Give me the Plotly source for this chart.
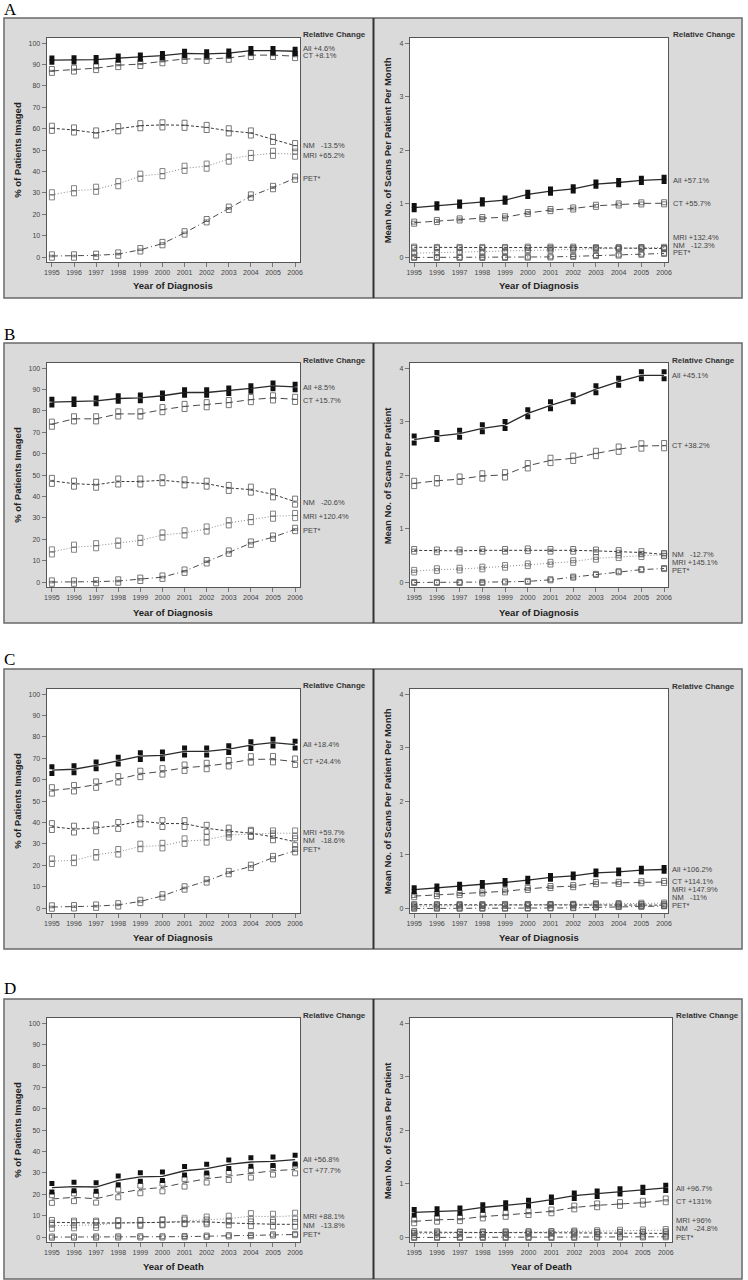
import plotly.graph_objects as go

# ---------------- data ----------------
years = [1995, 1996, 1997, 1998, 1999, 2000, 2001, 2002, 2003, 2004, 2005, 2006]
year_labels = [str(y) for y in years]
series_names = ["All", "CT", "NM", "MRI", "PET"]

pct_ticks = [0, 10, 20, 30, 40, 50, 60, 70, 80, 90, 100]
scan_ticks = [0, 1, 2, 3, 4]

# Panel A (year of diagnosis) - % imaged
a_pct_all = [92.1, 92.2, 92.3, 93.0, 93.5, 94.2, 95.2, 95.0, 95.3, 96.5, 96.5, 96.2]
a_pct_ct = [87.0, 87.6, 88.3, 89.7, 90.2, 91.5, 92.6, 92.6, 93.1, 94.4, 94.4, 93.9]
a_pct_nm = [60.2, 59.4, 58.0, 60.0, 61.4, 61.8, 61.6, 60.6, 59.0, 58.0, 55.0, 52.1]
a_pct_mri = [29.1, 31.0, 31.7, 34.3, 37.8, 39.0, 41.5, 42.5, 45.8, 47.5, 48.5, 48.1]
a_pct_pet = [0.5, 0.5, 0.8, 1.4, 3.4, 6.3, 11.3, 17.0, 22.8, 28.5, 32.5, 36.9]
a_pct_ci = [1.0, 0.9, 1.2, 1.2, 0.8]
a_pct_labels = ["All +4.6%", "CT +8.1%", "NM\u00a0\u00a0\u00a0-13.5%", "MRI +65.2%", "PET*"]

# Panel A - scans per patient per month
a_scan_all = [0.93, 0.965, 0.995, 1.04, 1.07, 1.18, 1.24, 1.28, 1.37, 1.40, 1.44, 1.46]
a_scan_ct = [0.65, 0.68, 0.71, 0.735, 0.75, 0.83, 0.885, 0.915, 0.965, 0.99, 1.01, 1.012]
a_scan_nm = [0.19, 0.185, 0.185, 0.185, 0.185, 0.19, 0.19, 0.19, 0.18, 0.18, 0.18, 0.167]
a_scan_mri = [0.08, 0.09, 0.095, 0.10, 0.11, 0.13, 0.14, 0.15, 0.165, 0.17, 0.18, 0.186]
a_scan_pet = [0.0, 0.0, 0.0, 0.0, 0.0, 0.005, 0.01, 0.02, 0.035, 0.045, 0.06, 0.075]
a_scan_ci = [0.04, 0.02, 0.012, 0.012, 0.01]
a_scan_labels = ["All +57.1%", "CT +55.7%", "MRI +132.4%", "NM\u00a0\u00a0\u00a0-12.3%", "PET*"]

# Panel B - % imaged
b_pct_all = [84.1, 84.3, 84.7, 85.8, 86.1, 87.1, 88.6, 88.6, 89.4, 90.5, 91.7, 91.2]
b_pct_ct = [73.8, 76.3, 76.3, 78.6, 78.6, 80.6, 82.1, 82.9, 83.9, 85.3, 86.1, 85.4]
b_pct_nm = [47.3, 46.0, 45.5, 47.0, 47.0, 47.6, 46.6, 46.0, 44.0, 43.2, 41.0, 37.6]
b_pct_mri = [14.1, 16.3, 17.0, 18.2, 19.5, 22.0, 23.0, 24.8, 27.7, 29.2, 30.8, 31.1]
b_pct_pet = [0.0, 0.0, 0.2, 0.5, 1.3, 2.3, 5.1, 9.5, 14.0, 18.2, 21.0, 24.6]
b_pct_ci = [1.3, 1.2, 1.4, 1.2, 0.8]
b_pct_labels = ["All +8.5%", "CT +15.7%", "NM\u00a0\u00a0\u00a0-20.6%", "MRI +120.4%", "PET*"]

# Panel B - scans per patient
b_scan_all = [2.67, 2.735, 2.78, 2.88, 2.94, 3.16, 3.31, 3.44, 3.61, 3.75, 3.87, 3.87]
b_scan_ct = [1.85, 1.90, 1.93, 1.99, 2.01, 2.18, 2.28, 2.32, 2.41, 2.49, 2.55, 2.556]
b_scan_nm = [0.60, 0.59, 0.59, 0.60, 0.60, 0.61, 0.60, 0.60, 0.59, 0.58, 0.56, 0.524]
b_scan_mri = [0.21, 0.24, 0.25, 0.27, 0.30, 0.33, 0.36, 0.39, 0.45, 0.48, 0.50, 0.515]
b_scan_pet = [0.0, 0.0, 0.0, 0.0, 0.01, 0.02, 0.05, 0.10, 0.15, 0.20, 0.24, 0.26]
b_scan_ci = [0.065, 0.05, 0.025, 0.025, 0.01]
b_scan_labels = ["All +45.1%", "CT +38.2%", "NM\u00a0\u00a0\u00a0-12.7%", "MRI +145.1%", "PET*"]

# Panel C - % imaged
c_pct_all = [64.5, 64.9, 66.7, 68.9, 71.0, 71.4, 73.2, 73.2, 74.3, 76.2, 77.3, 76.4]
c_pct_ct = [55.0, 56.0, 57.7, 60.2, 62.7, 63.9, 65.6, 66.4, 67.7, 69.5, 69.6, 68.4]
c_pct_nm = [38.1, 36.9, 37.5, 38.6, 40.7, 39.5, 39.5, 37.3, 36.0, 35.0, 33.3, 31.0]
c_pct_mri = [21.9, 22.3, 24.9, 26.3, 28.8, 29.2, 31.3, 31.9, 34.2, 34.7, 35.0, 35.0]
c_pct_pet = [0.5, 0.6, 0.9, 1.5, 3.1, 5.7, 9.4, 12.7, 16.6, 19.5, 23.6, 26.8]
c_pct_ci = [1.6, 1.5, 1.6, 1.3, 0.8]
c_pct_labels = ["All +18.4%", "CT +24.4%", "MRI +59.7%", "NM\u00a0\u00a0\u00a0-18.6%", "PET*"]

# Panel C - scans per patient per month
c_scan_all = [0.353, 0.385, 0.417, 0.448, 0.485, 0.53, 0.58, 0.61, 0.665, 0.685, 0.715, 0.728]
c_scan_ct = [0.231, 0.25, 0.27, 0.30, 0.32, 0.365, 0.40, 0.417, 0.475, 0.478, 0.49, 0.495]
c_scan_nm = [0.070, 0.070, 0.070, 0.070, 0.072, 0.072, 0.072, 0.070, 0.068, 0.066, 0.064, 0.062]
c_scan_mri = [0.040, 0.045, 0.05, 0.055, 0.06, 0.065, 0.07, 0.075, 0.085, 0.09, 0.095, 0.099]
c_scan_pet = [0.0, 0.0, 0.0, 0.0, 0.0, 0.002, 0.005, 0.01, 0.02, 0.03, 0.035, 0.045]
c_scan_ci = [0.035, 0.02, 0.012, 0.012, 0.005]
c_scan_labels = ["All +106.2%", "CT +114.1%", "MRI +147.9%", "NM\u00a0\u00a0\u00a0-11%", "PET*"]

# Panel D (year of death) - % imaged
d_pct_all = [23.1, 23.6, 23.4, 26.5, 28.1, 28.4, 31.0, 32.0, 34.0, 35.1, 35.4, 36.2]
d_pct_ct = [17.8, 18.6, 17.9, 20.4, 22.3, 23.2, 25.4, 27.3, 28.5, 29.6, 31.0, 31.6]
d_pct_nm = [6.9, 6.6, 6.6, 6.6, 6.9, 6.9, 7.1, 7.1, 6.6, 6.2, 6.0, 5.95]
d_pct_mri = [5.3, 5.5, 5.7, 6.5, 6.6, 6.9, 7.6, 8.2, 8.6, 9.8, 9.5, 10.0]
d_pct_pet = [0.0, 0.0, 0.0, 0.05, 0.1, 0.1, 0.2, 0.4, 0.6, 0.7, 1.0, 1.2]
d_pct_ci = [2.0, 1.8, 1.1, 1.4, 0.3]
d_pct_labels = ["All +56.8%", "CT +77.7%", "MRI +88.1%", "NM\u00a0\u00a0\u00a0-13.8%", "PET*"]

# Panel D - scans per patient
d_scan_all = [0.47, 0.487, 0.50, 0.56, 0.60, 0.643, 0.705, 0.78, 0.817, 0.86, 0.89, 0.925]
d_scan_ct = [0.30, 0.33, 0.34, 0.39, 0.42, 0.455, 0.487, 0.56, 0.60, 0.625, 0.65, 0.693]
d_scan_nm = [0.10, 0.095, 0.09, 0.09, 0.09, 0.09, 0.09, 0.09, 0.085, 0.08, 0.078, 0.075]
d_scan_mri = [0.07, 0.075, 0.08, 0.085, 0.09, 0.095, 0.10, 0.11, 0.115, 0.125, 0.13, 0.137]
d_scan_pet = [0.0, 0.0, 0.0, 0.0, 0.0, 0.0, 0.0, 0.002, 0.005, 0.008, 0.01, 0.012]
d_scan_ci = [0.05, 0.035, 0.02, 0.02, 0.01]
d_scan_labels = ["All +96.7%", "CT +131%", "MRI +96%", "NM\u00a0\u00a0\u00a0-24.8%", "PET*"]

row_letters = ["A", "B", "C", "D"]
pct_title = "% of Patients Imaged"
scan_titles = ["Mean No. of Scans Per Patient Per Month", "Mean No. of Scans Per Patient",
               "Mean No. of Scans Per Patient Per Month", "Mean No. of Scans Per Patient"]
x_titles = ["Year of Diagnosis", "Year of Diagnosis", "Year of Diagnosis", "Year of Death"]
rel_title = "Relative Change"

# ---------------- layout (pixels) ----------------
W, H = 748, 1280
FONT = "Arial, 'Liberation Sans', sans-serif"


def fx(p):
    return p / W


def fy(p):
    return 1 - p / H


row_boxes = [(18, 298), (343, 623), (669, 949), (999, 1279)]
row_plot_y = [(38, 262), (363, 587), (689, 913), (1018, 1242)]
row_letter_y = [9, 334, 659, 988]
row_xtitle_y = [286, 612, 937, 1266]
rel_y_left = [34, 360.5, 685.3, 1015]
rel_y_right = [34, 360.3, 686, 1015.3]
right_plot_x1 = [671.7, 671.7, 671.7, 675.7]
right_label_x = [675, 674, 674, 678]
right_xrange = [[1994.81, 2006.19], [1994.81, 2006.19], [1994.81, 2006.19], [1994.81, 2006.29]]
left_label_x = 301.5

label_y = [
    [48.7, 56, 146, 155, 178.3],
    [180, 203.3, 237.3, 245, 252.7],
    [387.3, 400, 502.3, 516.7, 530],
    [375.3, 446, 554.3, 562.7, 570.3],
    [744.7, 761, 832.7, 840.5, 849.5],
    [869.3, 881.7, 889.3, 897.3, 905.3],
    [1159.3, 1170, 1216.7, 1225.7, 1234.3],
    [1188.3, 1201, 1220.5, 1228.7, 1237],
]

panel_data = [
    ([a_pct_all, a_pct_ct, a_pct_nm, a_pct_mri, a_pct_pet], a_pct_ci, a_pct_labels),
    ([a_scan_all, a_scan_ct, a_scan_nm, a_scan_mri, a_scan_pet], a_scan_ci, a_scan_labels),
    ([b_pct_all, b_pct_ct, b_pct_nm, b_pct_mri, b_pct_pet], b_pct_ci, b_pct_labels),
    ([b_scan_all, b_scan_ct, b_scan_nm, b_scan_mri, b_scan_pet], b_scan_ci, b_scan_labels),
    ([c_pct_all, c_pct_ct, c_pct_nm, c_pct_mri, c_pct_pet], c_pct_ci, c_pct_labels),
    ([c_scan_all, c_scan_ct, c_scan_nm, c_scan_mri, c_scan_pet], c_scan_ci, c_scan_labels),
    ([d_pct_all, d_pct_ct, d_pct_nm, d_pct_mri, d_pct_pet], d_pct_ci, d_pct_labels),
    ([d_scan_all, d_scan_ct, d_scan_nm, d_scan_mri, d_scan_pet], d_scan_ci, d_scan_labels),
]

line_styles = {
    "All": dict(color="#2a2a2a", width=1.3, dash="solid"),
    "CT": dict(color="#4a4a4a", width=1.0, dash="7px,4px"),
    "NM": dict(color="#3a3a3a", width=1.0, dash="3px,2px"),
    "MRI": dict(color="#8a8a8a", width=1.0, dash="1px,2px"),
    "PET": dict(color="#4a4a4a", width=1.0, dash="6px,3px,1px,3px"),
}
marker_styles = {
    "All": dict(symbol="square", size=5, color="#111111"),
    "CT": dict(symbol="square-open", size=5, color="#555555", line=dict(width=0.8)),
    "NM": dict(symbol="square-open", size=5, color="#555555", line=dict(width=0.8)),
    "MRI": dict(symbol="square-open", size=5, color="#666666", line=dict(width=0.8)),
    "PET": dict(symbol="square-open", size=5, color="#555555", line=dict(width=0.8)),
}

fig = go.Figure()
shapes = []
annotations = []
layout_axes = {}

for r in range(4):
    b0, b1 = row_boxes[r]
    shapes.append(dict(type="rect", xref="paper", yref="paper", x0=fx(1), x1=fx(746),
                       y0=fy(b1), y1=fy(b0), fillcolor="#dadada",
                       line=dict(color="#6a6a6a", width=1.5), layer="below"))
    shapes.append(dict(type="line", xref="paper", yref="paper", x0=fx(374), x1=fx(374),
                       y0=fy(b1), y1=fy(b0), line=dict(color="#333333", width=2), layer="below"))
    annotations.append(dict(text=row_letters[r], xref="paper", yref="paper", x=fx(0), y=fy(row_letter_y[r]),
                            xanchor="left", yanchor="middle", showarrow=False, borderpad=0,
                            font=dict(family="'Liberation Serif', 'Times New Roman', serif", size=17, color="#000")))

for p in range(8):
    r, c = divmod(p, 2)
    py0, py1 = row_plot_y[r]
    if c == 0:
        px0, px1 = 44, 300
        xr = [1994.76, 2006.23]
        yr = [-2.3, 102.4]
        yt = pct_ticks
        ytitle = pct_title
        ytitle_x = 14
        lab_x = left_label_x
        rel_y = rel_y_left[r]
    else:
        px0, px1 = 410.7, right_plot_x1[r]
        xr = right_xrange[r]
        yr = [-0.085, 4.1]
        yt = scan_ticks
        ytitle = scan_titles[r]
        ytitle_x = 388
        lab_x = right_label_x[r]
        rel_y = rel_y_right[r]

    shapes.append(dict(type="rect", xref="paper", yref="paper", x0=fx(px0), x1=fx(px1),
                       y0=fy(py1), y1=fy(py0), fillcolor="white", line=dict(width=0), layer="below"))

    n = p + 1
    xa = "x" if n == 1 else f"x{n}"
    ya = "y" if n == 1 else f"y{n}"
    common = dict(showgrid=False, zeroline=False, showline=True, mirror=True,
                  linecolor="#555555", linewidth=1, ticks="outside", ticklen=4,
                  tickcolor="#777777", tickwidth=1,
                  tickfont=dict(family=FONT, size=7, color="#444444"), fixedrange=True)
    layout_axes["xaxis" if n == 1 else f"xaxis{n}"] = dict(
        domain=[fx(px0), fx(px1)], range=xr, anchor=ya,
        tickmode="array", tickvals=years, ticktext=year_labels, **common)
    layout_axes["yaxis" if n == 1 else f"yaxis{n}"] = dict(
        domain=[fy(py1), fy(py0)], range=yr, anchor=xa,
        tickmode="array", tickvals=yt, ticktext=[str(v) for v in yt], **common)

    series, ci, labels = panel_data[p]
    for si in [4, 3, 2, 1, 0]:
        name = series_names[si]
        vals = series[si]
        fig.add_trace(go.Scatter(x=years, y=vals, mode="lines", line=line_styles[name],
                                 xaxis=xa, yaxis=ya, hoverinfo="skip", showlegend=False))
        lo = [v - ci[si] for v in vals]
        hi = [v + ci[si] for v in vals]
        fig.add_trace(go.Scatter(x=years + years, y=lo + hi, mode="markers",
                                 marker=marker_styles[name], xaxis=xa, yaxis=ya,
                                 hoverinfo="skip", showlegend=False))

    annotations.append(dict(text=f"<b>{ytitle}</b>", xref="paper", yref="paper",
                            x=fx(ytitle_x), y=fy((py0 + py1) / 2), textangle=-90,
                            xanchor="center", yanchor="middle", showarrow=False, borderpad=0,
                            font=dict(family=FONT, size=9.5, color="#222222")))
    annotations.append(dict(text=f"<b>{x_titles[r]}</b>", xref="paper", yref="paper",
                            x=fx((px0 + px1) / 2), y=fy(row_xtitle_y[r]),
                            xanchor="center", yanchor="middle", showarrow=False, borderpad=0,
                            font=dict(family=FONT, size=9.5, color="#222222")))
    annotations.append(dict(text=f"<b>{rel_title}</b>", xref="paper", yref="paper",
                            x=fx(lab_x), y=fy(rel_y), xanchor="left", yanchor="middle",
                            showarrow=False, borderpad=0,
                            font=dict(family=FONT, size=8, color="#333333")))
    for li, txt in enumerate(labels):
        annotations.append(dict(text=txt, xref="paper", yref="paper",
                                x=fx(lab_x), y=fy(label_y[p][li]), xanchor="left", yanchor="middle",
                                showarrow=False, borderpad=0,
                                font=dict(family=FONT, size=7.5, color="#444444")))

fig.update_layout(width=W, height=H, margin=dict(l=0, r=0, t=0, b=0),
                  paper_bgcolor="white", plot_bgcolor="white", showlegend=False,
                  shapes=shapes, annotations=annotations, **layout_axes)

fig.write_html("out.html", config={"displayModeBar": False},
               post_script="document.body.style.margin='0';document.body.style.padding='0';")
